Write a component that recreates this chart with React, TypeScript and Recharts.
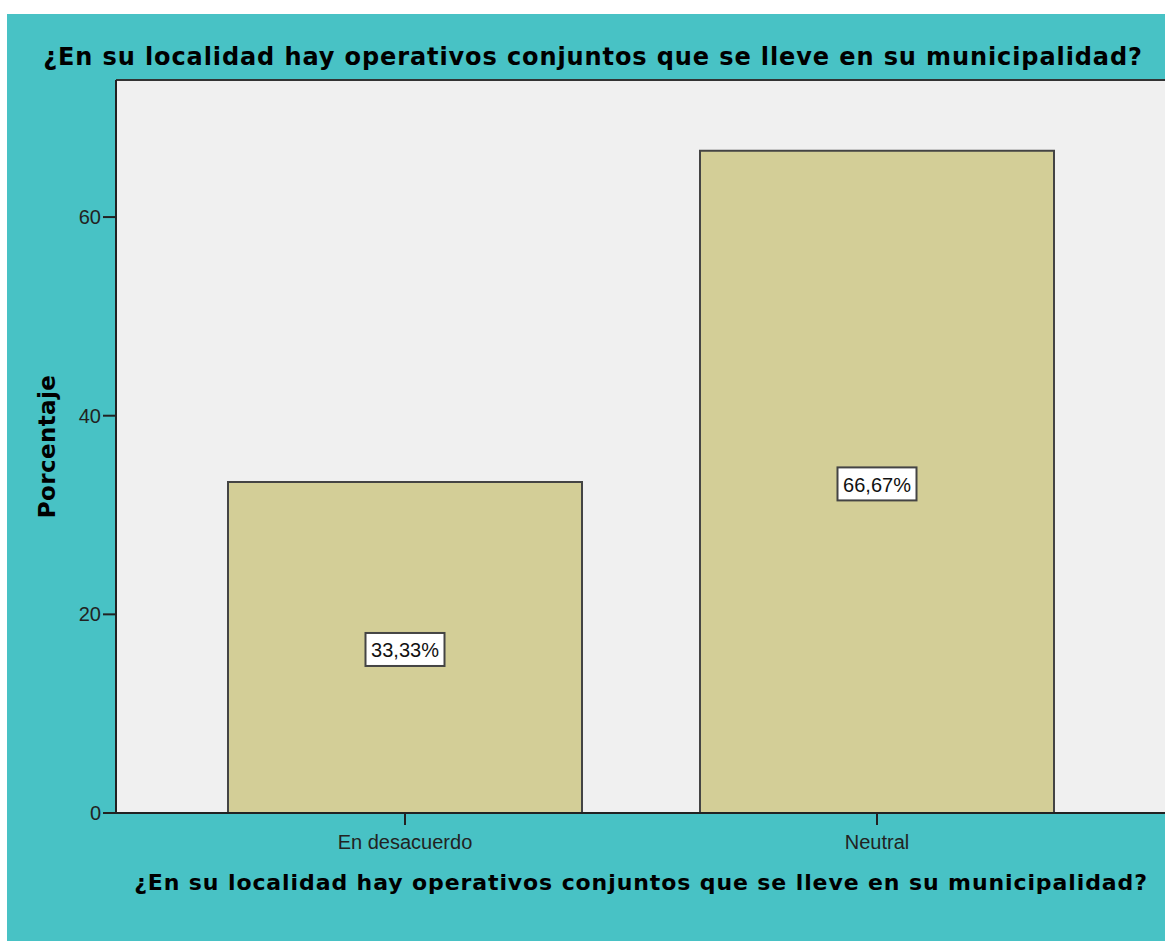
import { BarChart, Bar, XAxis, YAxis, CartesianGrid, ReferenceLine, LabelList } from "recharts";

const TITLE = "¿En su localidad hay operativos conjuntos que se lleve en su municipalidad?";
const CATEGORIES = ["En desacuerdo", "Neutral"];
const PERCENTS = [33.33, 66.67];
const PERCENT_LABELS = ["33,33%", "66,67%"];
const Y_TICKS = [0, 20, 40, 60];
const Y_MAX = 73.8;

const TEAL = "#48C2C5";
const PLOT_BG = "#F0F0F0";
const BAR_FILL = "#D3CE97";
const FONT = "'Liberation Sans', Arial, sans-serif";
const TITLE_FONT = "'DejaVu Sans', Verdana, sans-serif";

type Datum = { name: string; pct: number; label: string };

const data: Datum[] = CATEGORIES.map((name, i) => ({
  name,
  pct: PERCENTS[i],
  label: PERCENT_LABELS[i],
}));

// white boxed value label, a touch below the middle of each bar
function BoxLabel(props: any) {
  const { x, y, width, height, value } = props;
  const cx = x + width / 2;
  const cy = y + height / 2 + 2;
  const w = 79;
  const h = 33;
  return (
    <g>
      <rect x={cx - w / 2} y={cy - h / 2} width={w} height={h} fill="#fff" stroke="#444" strokeWidth={2} />
      <text x={cx} y={cy + 1} textAnchor="middle" dominantBaseline="central" fontSize={20} fontFamily={FONT} fill="#111">
        {value}
      </text>
    </g>
  );
}

export default function App() {
  return (
    <div style={{ position: "absolute", left: 0, top: 0, width: 1165, height: 941, background: "#fff", overflow: "hidden" }}>
      <div style={{ position: "absolute", left: 7, top: 14, width: 1160, height: 927, background: TEAL }}>
        <div
          style={{
            position: "absolute",
            left: 0,
            top: 28,
            width: 1172,
            textAlign: "center",
            fontFamily: TITLE_FONT,
            fontWeight: "bold",
            fontSize: 24,
            letterSpacing: 0.9,
            color: "#000",
            lineHeight: "30px",
            whiteSpace: "nowrap",
          }}
        >
          {TITLE}
        </div>
        <BarChart
          width={1160}
          height={927}
          data={data}
          margin={{ top: 66, right: 1, left: 0, bottom: 0 }}
          barCategoryGap="12.5%"
        >
          <CartesianGrid fill={PLOT_BG} horizontal={false} vertical={false} />
          <ReferenceLine y={Y_MAX} stroke="#333" strokeWidth={2} ifOverflow="extendDomain" />
          <XAxis
            dataKey="name"
            height={128}
            padding={{ left: 53, right: 53 }}
            tickSize={12}
            tickMargin={10}
            axisLine={{ stroke: "#222", strokeWidth: 2 }}
            tickLine={{ stroke: "#222", strokeWidth: 2 }}
            tick={{ fill: "#222", fontSize: 20, fontFamily: FONT }}
            label={{
              value: TITLE,
              position: "insideTop",
              offset: 61,
              fill: "#000",
              fontSize: 22,
              fontWeight: "bold",
              fontFamily: TITLE_FONT,
              style: { letterSpacing: 0.9 },
            }}
          />
          <YAxis
            width={109}
            domain={[0, Y_MAX]}
            ticks={Y_TICKS}
            tickSize={13}
            tickMargin={2}
            axisLine={{ stroke: "#222", strokeWidth: 2 }}
            tickLine={{ stroke: "#222", strokeWidth: 2 }}
            tick={{ fill: "#222", fontSize: 20, fontFamily: FONT }}
            label={{
              value: "Porcentaje",
              angle: -90,
              position: "insideLeft",
              offset: 40,
              fill: "#000",
              fontSize: 23,
              fontWeight: "bold",
              fontFamily: TITLE_FONT,
              style: { textAnchor: "middle", letterSpacing: 0.4 },
            }}
          />
          <Bar dataKey="pct" fill={BAR_FILL} stroke="#444" strokeWidth={2} isAnimationActive={false}>
            <LabelList dataKey="label" content={BoxLabel} />
          </Bar>
        </BarChart>
      </div>
    </div>
  );
}
